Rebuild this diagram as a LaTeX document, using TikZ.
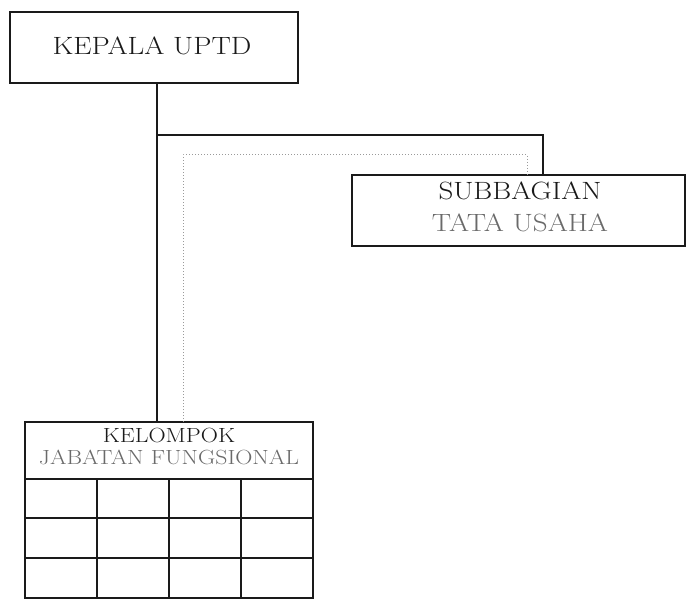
\documentclass[tikz,border=0pt]{standalone}
\usetikzlibrary{positioning,calc}
\definecolor{ink}{HTML}{1A1A1A}
\definecolor{soft}{HTML}{6A6A6A}
\definecolor{dotc}{HTML}{9A9A9A}
\newcommand{\wid}[1]{\scalebox{1.16}[1]{#1}}
\begin{document}
\begin{tikzpicture}[x=1pt,y=1pt,
  box/.style={draw=ink,line width=1.3pt,rectangle,inner sep=0pt},
  conn/.style={draw=ink,line width=1.3pt},
  dotconn/.style={draw=dotc,line width=1pt,dotted},
  gridline/.style={draw=ink,line width=1.1pt},
  bigt/.style={font=\fontsize{25}{30}\selectfont,anchor=base},
  smallt/.style={font=\fontsize{20.5}{24}\selectfont,anchor=base}]
\useasboundingbox (0,0) rectangle (686,-599);
% boxes
\node[box,minimum width=288pt,minimum height=71pt] (kepala) at (154,-47.5) {};
\node[text=ink,bigt] (kepalat) at (152,-55) {\wid{KEPALA UPTD}};
\node[box,minimum width=333pt,minimum height=71pt] (sub) at (518.5,-210.5) {};
\node[text=ink,bigt] (subt1) at (520,-200) {\wid{SUBBAGIAN}};
\node[text=soft,bigt] (subt2) at (520,-231) {\wid{TATA USAHA}};
% kelompok grid
\node[box,minimum width=288pt,minimum height=176pt] (kel) at (169,-510) {};
\node[text=ink,smallt] (kelt1) at (169,-442) {\wid{KELOMPOK}};
\node[text=soft,smallt] (kelt2) at (169,-464) {\wid{JABATAN FUNGSIONAL}};
\coordinate (h1l) at (25,-479); \coordinate (h1r) at (313,-479);
\coordinate (h2l) at (25,-518); \coordinate (h2r) at (313,-518);
\coordinate (h3l) at (25,-558); \coordinate (h3r) at (313,-558);
\coordinate (v1t) at (97,-479); \coordinate (v1b) at (97,-598);
\coordinate (v2t) at (169,-479); \coordinate (v2b) at (169,-598);
\coordinate (v3t) at (241,-479); \coordinate (v3b) at (241,-598);
\draw[gridline] (h1l) -- (h1r);
\draw[gridline] (h2l) -- (h2r);
\draw[gridline] (h3l) -- (h3r);
\draw[gridline] (v1t) -- (v1b);
\draw[gridline] (v2t) -- (v2b);
\draw[gridline] (v3t) -- (v3b);
% connectors
\coordinate (ks) at (157,-83);
\coordinate (kn) at (157,-422);
\coordinate (j1) at (157,-135);
\coordinate (j2) at (543,-135);
\coordinate (sn) at (543,-175);
\draw[conn] (ks) -- (kn);
\draw[conn] (j1) -- (j2) -- (sn);
\coordinate (d0) at (183,-422);
\coordinate (d1) at (183,-155);
\coordinate (d2) at (527,-155);
\coordinate (d3) at (527,-175);
\draw[dotconn] (d0) -- (d1) -- (d2) -- (d3);
\end{tikzpicture}
\end{document}
